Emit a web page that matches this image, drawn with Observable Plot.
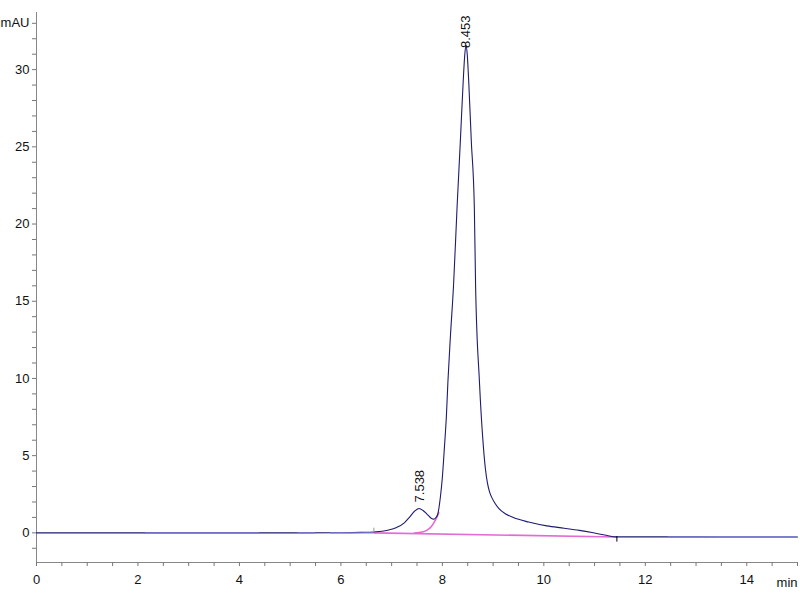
<!DOCTYPE html>
<html>
<head>
<meta charset="utf-8">
<script src="https://cdn.jsdelivr.net/npm/d3@7"></script>
<script src="https://cdn.jsdelivr.net/npm/@observablehq/plot@0.6"></script>
<style>
  html, body { margin: 0; padding: 0; background: #fff; }
  #chart { width: 800px; height: 600px; }
</style>
</head>
<body>
<div id="chart"></div>
<script>
// Chromatogram signal (time in min, absorbance in mAU)
const time   = [0, 1, 2, 3, 4, 5, 6, 6.4, 6.65, 6.9, 7.1, 7.25, 7.35, 7.45, 7.54, 7.62, 7.7, 7.78, 7.83, 7.87, 7.91, 7.96, 8.0, 8.04, 8.08, 8.11, 8.16, 8.22, 8.29, 8.355, 8.41, 8.44, 8.465, 8.49, 8.52, 8.57, 8.63, 8.655, 8.73, 8.81, 8.85, 8.89, 8.93, 8.98, 9.04, 9.12, 9.24, 9.4, 9.7, 10.06, 10.4, 10.7, 10.95, 11.2, 11.44, 12, 13, 14, 15];
const signal = [0, 0, 0, 0, 0, 0, 0.01, 0.03, 0.06, 0.15, 0.35, 0.65, 1.0, 1.4, 1.58, 1.45, 1.2, 0.95, 0.89, 0.98, 1.22, 2.29, 3.6, 5.52, 7.6, 9.84, 12.8, 16.0, 21.1, 25.4, 29.2, 30.9, 31.6, 31.0, 29.2, 25.4, 21.1, 16.0, 9.84, 5.52, 4.1, 3.2, 2.65, 2.25, 1.9, 1.55, 1.24, 0.99, 0.7, 0.45, 0.3, 0.16, 0.02, -0.14, -0.26, -0.26, -0.26, -0.27, -0.27];

// Lighter blue stretches of the trace (start, end, level)
const blueStart = [2.15, 5.15, 5.8, 12.45];
const blueEnd   = [4.4, 5.5, 6.65, 15];
const blueLevel = [0, 0, 0, -0.26];

// Integration baseline
const baseTime = [6.65, 11.44];
const baseVal  = [0.0, -0.27];
// Skim of the main peak front
const skimTime = [7.45, 7.6, 7.7, 7.78, 7.84, 7.89, 7.93];
const skimVal  = [-0.02, 0.05, 0.18, 0.4, 0.7, 1.0, 1.3];

// Peak labels
const peakTime  = [7.56, 8.453];
const peakY     = [1.97, 31.4];
const peakLabel = ["7.538", "8.453"];

// Integration event marks
const eventTime = [6.65, 11.44];
const eventY1   = [0, -0.25];
const eventY2   = [0.3, -0.6];
const eventColor = ["#999", "#000"];

// Axis ticks
const xTicks = d3.range(0, 15.001, 0.5);
const yTicks = d3.range(-1, 34, 1);
const yMin = -1.92, yMax = 33.7;

const trace = time.map((t, i) => ({t, v: signal[i]}));
const blue = blueStart.map((s, i) => ({s, e: blueEnd[i], v: blueLevel[i]}));
const base = baseTime.map((t, i) => ({t, v: baseVal[i]}));
const skim = skimTime.map((t, i) => ({t, v: skimVal[i]}));
const peaks = peakTime.map((t, i) => ({t, v: peakY[i], label: peakLabel[i]}));
const events = eventTime.map((t, i) => ({t, y1: eventY1[i], y2: eventY2[i], c: eventColor[i]}));

const chart = Plot.plot({
  width: 800,
  height: 600,
  marginLeft: 36,
  marginRight: 3,
  marginTop: 12,
  marginBottom: 38,
  style: {fontFamily: "'Liberation Sans', Arial, sans-serif", fontSize: "13px", background: "#fff", color: "#111"},
  x: {domain: [0, 15]},
  y: {domain: [yMin, yMax]},
  marks: [
    Plot.ruleX([0], {stroke: "#888"}),
    Plot.ruleY([yMin], {stroke: "#888"}),
    Plot.axisX(xTicks, {
      tickSize: 4, tickPadding: 8, stroke: "#777", fill: "#111",
      tickFormat: d => (d % 2 === 0 && d < 15) ? String(d) : "", label: null
    }),
    Plot.axisY(yTicks, {
      tickSize: 4, tickPadding: 3, stroke: "#777", fill: "#111",
      tickFormat: d => d === 33 ? "mAU" : (d % 5 === 0 && d >= 0 ? String(d) : ""), label: null
    }),
    Plot.text(["min"], {x: 15, y: yMin, text: d => d, textAnchor: "end", dy: 20, fill: "#111"}),
    Plot.line(base, {x: "t", y: "v", stroke: "#e46ad6", strokeWidth: 1.6}),
    Plot.line(skim, {x: "t", y: "v", stroke: "#e46ad6", strokeWidth: 1.6, curve: "monotone-x"}),
    Plot.line(trace, {x: "t", y: "v", stroke: "#1c1c70", strokeWidth: 1.1, curve: "monotone-x"}),
    Plot.ruleY(blue, {x1: "s", x2: "e", y: "v", stroke: "#7a7ad8", strokeWidth: 1.3}),
    Plot.ruleX(events, {x: "t", y1: "y1", y2: "y2", stroke: "c", strokeWidth: 1}),
    Plot.text(peaks, {x: "t", y: "v", text: "label", rotate: -90, textAnchor: "start", fill: "#111", fontSize: 13})
  ]
});
document.getElementById("chart").appendChild(chart);
</script>
</body>
</html>
